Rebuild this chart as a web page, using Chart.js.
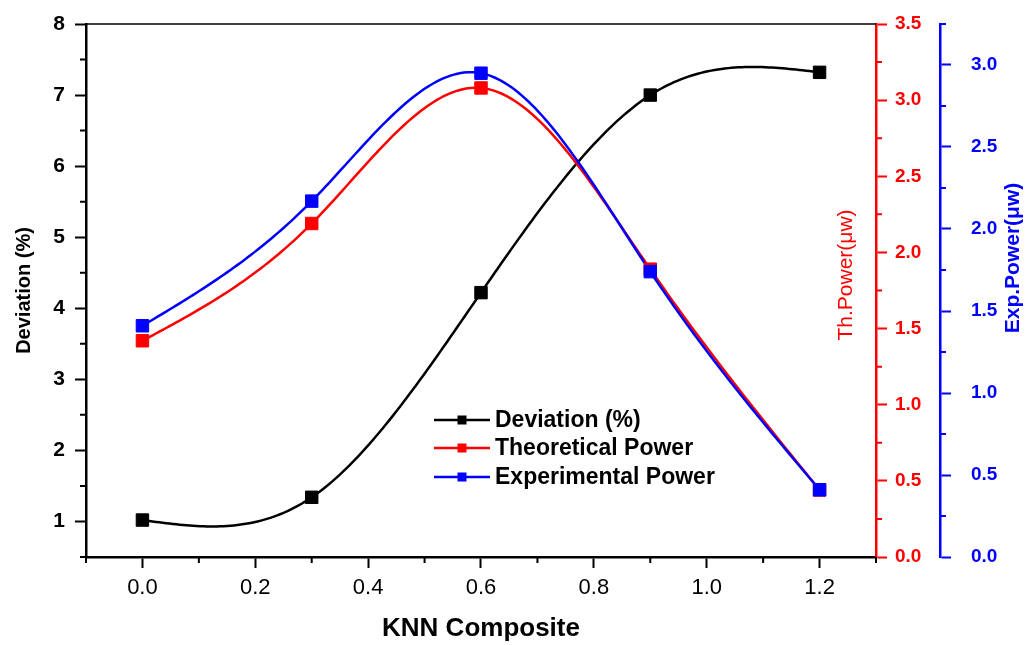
<!DOCTYPE html>
<html>
<head>
<meta charset="utf-8">
<script src="https://cdn.jsdelivr.net/npm/chart.js@4/dist/chart.umd.min.js"></script>
<style>
  body { margin: 0; background: #fff; }
  #wrap { width: 1025px; height: 645px; }
</style>
</head>
<body>
<div id="wrap"><canvas id="knnChart" width="1025" height="645"></canvas></div>
<script>
// values
const composite = [0.0, 0.3, 0.6, 0.9, 1.2];
const deviation = [1.02, 1.34, 4.22, 7.0, 7.32];
const theoreticalPower = [1.42, 2.19, 3.08, 1.89, 0.44];
const experimentalPower = [1.41, 2.17, 2.95, 1.74, 0.41];

const xTicks = [0.0, 0.2, 0.4, 0.6, 0.8, 1.0, 1.2];
const xMinor = [-0.1, 0.1, 0.3, 0.5, 0.7, 0.9, 1.1, 1.3];
const devTicks = [1, 2, 3, 4, 5, 6, 7, 8];
const devMinor = [0.5, 1.5, 2.5, 3.5, 4.5, 5.5, 6.5, 7.5];
const thTicks = [0.0, 0.5, 1.0, 1.5, 2.0, 2.5, 3.0, 3.5];
const thMinor = [0.25, 0.75, 1.25, 1.75, 2.25, 2.75, 3.25];
const expTicks = [0.0, 0.5, 1.0, 1.5, 2.0, 2.5, 3.0];
const expMinor = [0.25, 0.75, 1.25, 1.75, 2.25, 2.75, 3.25];

const legendLabels = ['Deviation (%)', 'Theoretical Power', 'Experimental Power'];
const seriesColors = ['#000000', '#ff0000', '#0000ff'];

const FONT = "'Liberation Sans', Arial, sans-serif";
Chart.defaults.font.family = FONT;

function toPoints(ys) {
	return composite.map((x, i) => ({ x: x, y: ys[i] }));
}

// natural cubic spline (Origin "Spline" connection)
function naturalSpline(xs, ys) {
	const n = xs.length;
	const h = [], alpha = [0];
	for (let i = 0; i < n - 1; i++) h.push(xs[i + 1] - xs[i]);
	for (let i = 1; i < n - 1; i++) {
		alpha.push(3 / h[i] * (ys[i + 1] - ys[i]) - 3 / h[i - 1] * (ys[i] - ys[i - 1]));
	}
	const l = [1], mu = [0], z = [0];
	for (let i = 1; i < n - 1; i++) {
		l[i] = 2 * (xs[i + 1] - xs[i - 1]) - h[i - 1] * mu[i - 1];
		mu[i] = h[i] / l[i];
		z[i] = (alpha[i] - h[i - 1] * z[i - 1]) / l[i];
	}
	const c = new Array(n).fill(0), b = [], d = [];
	for (let j = n - 2; j >= 0; j--) {
		c[j] = (j === 0 ? 0 : z[j] - mu[j] * c[j + 1]);
		b[j] = (ys[j + 1] - ys[j]) / h[j] - h[j] * (c[j + 1] + 2 * c[j]) / 3;
		d[j] = (c[j + 1] - c[j]) / (3 * h[j]);
	}
	return function (x) {
		let j = 0;
		while (j < n - 2 && x > xs[j + 1]) j++;
		const dx = x - xs[j];
		return ys[j] + b[j] * dx + c[j] * dx * dx + d[j] * dx * dx * dx;
	};
}

const splinePlugin = {
	id: 'splineLines',
	beforeDatasetsDraw(chart) {
		const ctx = chart.ctx;
		chart.data.datasets.forEach((ds, i) => {
			const meta = chart.getDatasetMeta(i);
			const xs = chart.scales[meta.xAxisID];
			const ys = chart.scales[meta.yAxisID];
			const px = ds.data.map(p => p.x);
			const py = ds.data.map(p => p.y);
			const f = naturalSpline(px, py);
			ctx.save();
			ctx.beginPath();
			const steps = 200;
			for (let k = 0; k <= steps; k++) {
				const x = px[0] + (px[px.length - 1] - px[0]) * k / steps;
				const X = xs.getPixelForValue(x), Y = ys.getPixelForValue(f(x));
				if (k === 0) ctx.moveTo(X, Y); else ctx.lineTo(X, Y);
			}
			ctx.strokeStyle = ds.borderColor;
			ctx.lineWidth = 2.5;
			ctx.stroke();
			ctx.restore();
		});
	}
};

const decorPlugin = {
	id: 'decor',
	afterDraw(chart) {
		const ctx = chart.ctx;
		const a = chart.chartArea;
		const sx = chart.scales.x, sy = chart.scales.y, sy1 = chart.scales.y1, sy2 = chart.scales.y2;
		ctx.save();
		// top frame
		ctx.strokeStyle = '#000';
		ctx.lineWidth = 1.5;
		ctx.beginPath();
		ctx.moveTo(a.left, a.top);
		ctx.lineTo(a.right, a.top);
		ctx.stroke();
		// minor ticks
		ctx.lineWidth = 2;
		ctx.beginPath();
		xMinor.forEach(v => { const X = sx.getPixelForValue(v); ctx.moveTo(X, a.bottom); ctx.lineTo(X, a.bottom + 6); });
		devMinor.forEach(v => { const Y = sy.getPixelForValue(v); ctx.moveTo(a.left - 6, Y); ctx.lineTo(a.left, Y); });
		ctx.stroke();
		ctx.strokeStyle = '#ff0000';
		ctx.beginPath();
		thMinor.forEach(v => { const Y = sy1.getPixelForValue(v); ctx.moveTo(sy1.left, Y); ctx.lineTo(sy1.left + 6, Y); });
		ctx.stroke();
		ctx.strokeStyle = '#0000ff';
		ctx.beginPath();
		expMinor.forEach(v => { const Y = sy2.getPixelForValue(v); ctx.moveTo(sy2.left, Y); ctx.lineTo(sy2.left + 6, Y); });
		ctx.stroke();

		// right axis titles
		ctx.textAlign = 'center';
		ctx.textBaseline = 'middle';
		ctx.save();
		ctx.translate(846, 275);
		ctx.rotate(-Math.PI / 2);
		ctx.fillStyle = '#ff0000';
		ctx.font = '21px ' + FONT;
		ctx.fillText('Th.Power(\u03bcw)', 0, 0);
		ctx.restore();
		ctx.save();
		ctx.translate(1013, 258);
		ctx.rotate(-Math.PI / 2);
		ctx.fillStyle = '#0000ff';
		ctx.font = 'bold 21px ' + FONT;
		ctx.fillText('Exp.Power(\u03bcw)', 0, 0);
		ctx.restore();

		// legend
		const rows = [420, 448, 477];
		ctx.textAlign = 'left';
		ctx.font = 'bold 23px ' + FONT;
		legendLabels.forEach((lab, i) => {
			const y = rows[i];
			ctx.strokeStyle = seriesColors[i];
			ctx.lineWidth = 2.5;
			ctx.beginPath();
			ctx.moveTo(434, y);
			ctx.lineTo(490, y);
			ctx.stroke();
			ctx.fillStyle = seriesColors[i];
			ctx.fillRect(457.5, y - 4.5, 9, 9);
			ctx.fillStyle = '#000';
			ctx.fillText(lab, 495, y + 1);
		});
		ctx.restore();
	}
};

function fixTicks(values) {
	return function (scale) { scale.ticks = values.map(v => ({ value: v })); };
}

function fitY(width) {
	return function (s) { s.width = width; s.paddingTop = 0; s.paddingBottom = 0; };
}

new Chart(document.getElementById('knnChart'), {
	type: 'scatter',
	data: {
		datasets: [
			{
				label: legendLabels[0], data: toPoints(deviation), yAxisID: 'y', order: 3,
				borderColor: seriesColors[0], backgroundColor: seriesColors[0],
				pointStyle: 'rect', pointRadius: 8.8, pointBorderWidth: 1
			},
			{
				label: legendLabels[1], data: toPoints(theoreticalPower), yAxisID: 'y1', order: 2,
				borderColor: seriesColors[1], backgroundColor: seriesColors[1],
				pointStyle: 'rect', pointRadius: 8.8, pointBorderWidth: 1
			},
			{
				label: legendLabels[2], data: toPoints(experimentalPower), yAxisID: 'y2', order: 1,
				borderColor: seriesColors[2], backgroundColor: seriesColors[2],
				pointStyle: 'rect', pointRadius: 8.8, pointBorderWidth: 1
			}
		]
	},
	options: {
		responsive: false,
		animation: false,
		layout: { padding: { top: 24, left: 0, right: 0, bottom: 0 } },
		plugins: { legend: { display: false }, tooltip: { enabled: false } },
		scales: {
			x: {
				type: 'linear', position: 'bottom', min: -0.1, max: 1.3,
				afterBuildTicks: fixTicks(xTicks),
				afterFit(s) { s.height = 88; s.paddingLeft = 0; s.paddingRight = 0; },
				grid: { drawOnChartArea: false, tickLength: 11, tickWidth: 2, tickColor: '#000' },
				border: { display: true, color: '#000', width: 2.5 },
				ticks: { color: '#000', font: { size: 22 }, padding: 7, maxRotation: 0,
					callback: v => v.toFixed(1) },
				title: { display: true, text: 'KNN Composite', color: '#000',
					font: { size: 26, weight: 'bold' }, padding: { top: 0, bottom: 1 } }
			},
			y: {
				type: 'linear', position: 'left', min: 0.5, max: 8,
				afterBuildTicks: fixTicks(devTicks),
				afterFit: fitY(86),
				grid: { drawOnChartArea: false, tickLength: 11, tickWidth: 2, tickColor: '#000' },
				border: { display: true, color: '#000', width: 2.5 },
				ticks: { color: '#000', font: { size: 21, weight: 'bold' }, padding: 10,
					callback: v => String(v) },
				title: { display: true, text: 'Deviation (%)', color: '#000',
					font: { size: 20, weight: 'bold' }, padding: { top: 12, bottom: 0 } }
			},
			y1: {
				type: 'linear', position: 'right', min: 0, max: 3.5, weight: 0,
				afterBuildTicks: fixTicks(thTicks),
				afterFit: fitY(64),
				grid: { drawOnChartArea: false, tickLength: 11, tickWidth: 2, tickColor: '#ff0000' },
				border: { display: true, color: '#ff0000', width: 2.5 },
				ticks: { color: '#ff0000', font: { size: 19, weight: 'bold' }, padding: 8,
					callback: v => v.toFixed(1) }
			},
			y2: {
				type: 'linear', position: 'right', min: 0, max: 3.25, weight: 1,
				afterBuildTicks: fixTicks(expTicks),
				afterFit: fitY(85),
				grid: { drawOnChartArea: false, tickLength: 11, tickWidth: 2, tickColor: '#0000ff' },
				border: { display: true, color: '#0000ff', width: 2.5 },
				ticks: { color: '#0000ff', font: { size: 19, weight: 'bold' }, padding: 20,
					callback: v => v.toFixed(1) }
			}
		}
	},
	plugins: [splinePlugin, decorPlugin]
});
</script>
</body>
</html>
